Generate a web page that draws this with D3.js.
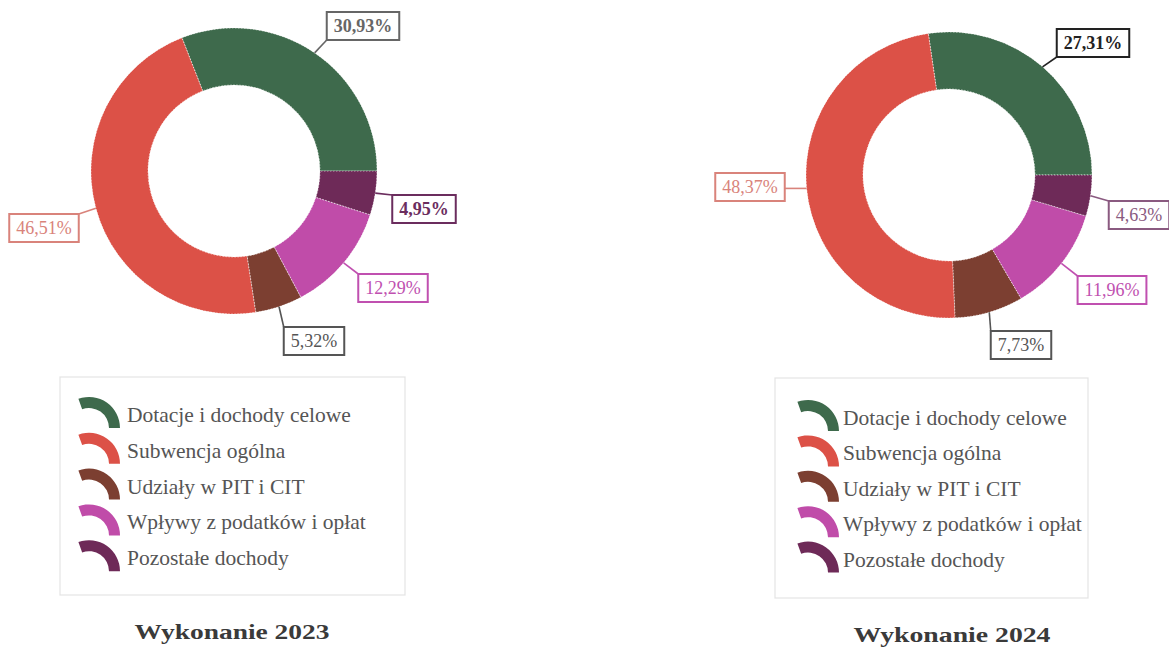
<!DOCTYPE html>
<html><head><meta charset="utf-8">
<script src="https://cdn.jsdelivr.net/npm/d3@7"></script>
<style>
html,body{margin:0;padding:0;background:#fff;}
svg{display:block;font-family:"Liberation Serif","Times New Roman",serif;}
</style></head>
<body>
<svg id="chart" width="1169" height="648"></svg>
<script>
// ---- data ----
const categories = ["Dotacje i dochody celowe", "Subwencja ogólna", "Udziały w PIT i CIT", "Wpływy z podatków i opłat", "Pozostałe dochody"];
const values2023 = [30.93, 46.51, 5.32, 12.29, 4.95];
const values2024 = [27.31, 48.37, 7.73, 11.96, 4.63];
const titles = ["Wykonanie 2023", "Wykonanie 2024"];

// ---- styles / layout ----
const colors = ["#3e6a4c", "#dc5147", "#7c3f31", "#c04ca9", "#6e2a58"];
const svg = d3.select("#chart");

const charts = [
  { values: values2023, title: titles[0], cx: 234, cy: 171,
    labelOffsets: [[129,-145],[-190,57],[80,170],[159,117],[190,38]],
    labelColors: ["#666666","#d9837b","#555555","#c050b0","#6b2d5e"],
    labelBold: [true,false,false,false,true],
    legend: {x: 60, y: 377, w: 345, h: 218, tx: 127, ty: 415, step: 35.8, ix: 89},
    titleX: 232, titleY: 639, titleW: 195 },
  { values: values2024, title: titles[1], cx: 949, cy: 175,
    labelOffsets: [[144,-132],[-199,12],[72,170],[163,115],[190,40]],
    labelColors: ["#222222","#d9837b","#555555","#c050b0","#8a5a80"],
    labelBold: [true,false,false,false,false],
    legend: {x: 775, y: 378, w: 313, h: 220, tx: 843, ty: 418, step: 35.4, ix: 808},
    titleX: 952, titleY: 642, titleW: 197 }
];

const R = 143, r = 86;
const fmt = v => d3.format(".2f")(v).replace(".", ",") + "%";

charts.forEach(ch => {
  const g = svg.append("g").attr("transform", `translate(${ch.cx},${ch.cy})`);
  const pie = d3.pie().sort(null).value(d => d)
    .startAngle(Math.PI / 2).endAngle(Math.PI / 2 - 2 * Math.PI);
  const arcs = pie(ch.values);
  const arc = d3.arc().innerRadius(r).outerRadius(R);

  g.selectAll("path.slice").data(arcs).join("path")
    .attr("class", "slice")
    .attr("d", arc)
    .attr("fill", (d, i) => colors[i])
    .attr("stroke", "#fff").attr("stroke-width", 0.6).attr("stroke-dasharray", "1.5,1.5");

  // labels
  const fs = 18, padX = 7, h = 28;
  arcs.forEach((d, i) => {
    const txt = fmt(ch.values[i]);
    const [ox, oy] = ch.labelOffsets[i];
    const lg = g.append("g");
    const t = lg.append("text")
      .attr("x", ox).attr("y", oy)
      .attr("text-anchor", "middle").attr("dominant-baseline", "central")
      .attr("font-size", fs)
      .attr("font-weight", ch.labelBold[i] ? "bold" : "normal")
      .attr("fill", ch.labelColors[i])
      .text(txt);
    const tw = t.node().getComputedTextLength();
    const bw = tw + padX * 2;
    const bx0 = ox - bw / 2, by0 = oy - h / 2;
    lg.insert("rect", "text")
      .attr("x", bx0).attr("y", by0).attr("width", bw).attr("height", h)
      .attr("fill", "#fff").attr("stroke", ch.labelColors[i]).attr("stroke-width", 2);
    // leader line
    const a = (d.startAngle + d.endAngle) / 2;
    const sx = R * Math.sin(a), sy = -R * Math.cos(a);
    const ex = Math.max(bx0, Math.min(sx, bx0 + bw));
    const ey = Math.max(by0, Math.min(sy, by0 + h));
    g.insert("line", "g")
      .attr("x1", sx).attr("y1", sy).attr("x2", ex).attr("y2", ey)
      .attr("stroke", ch.labelColors[i]).attr("stroke-width", 1.6);
  });

  // legend
  const L = ch.legend;
  svg.append("rect").attr("x", L.x).attr("y", L.y).attr("width", L.w).attr("height", L.h)
    .attr("fill", "none").attr("stroke", "#e4e4e4").attr("stroke-width", 1.2);
  const iconArc = d3.arc().innerRadius(20).outerRadius(31)
    .startAngle(-20 * Math.PI / 180).endAngle(Math.PI / 2);
  categories.forEach((c, i) => {
    const yc = L.ty + i * L.step;
    svg.append("path").attr("d", iconArc())
      .attr("transform", `translate(${L.ix},${yc + 13})`)
      .attr("fill", colors[i]);
    svg.append("text").attr("x", L.tx).attr("y", yc)
      .attr("dominant-baseline", "central")
      .attr("font-size", 21.5).attr("fill", "#555")
      .text(c);
  });

  // title
  svg.append("text").attr("x", ch.titleX).attr("y", ch.titleY)
    .attr("text-anchor", "middle")
    .attr("font-size", 21).attr("font-weight", "bold").attr("fill", "#3a3a3a")
    .attr("textLength", ch.titleW).attr("lengthAdjust", "spacingAndGlyphs")
    .text(ch.title);
});
</script>
</body></html>
